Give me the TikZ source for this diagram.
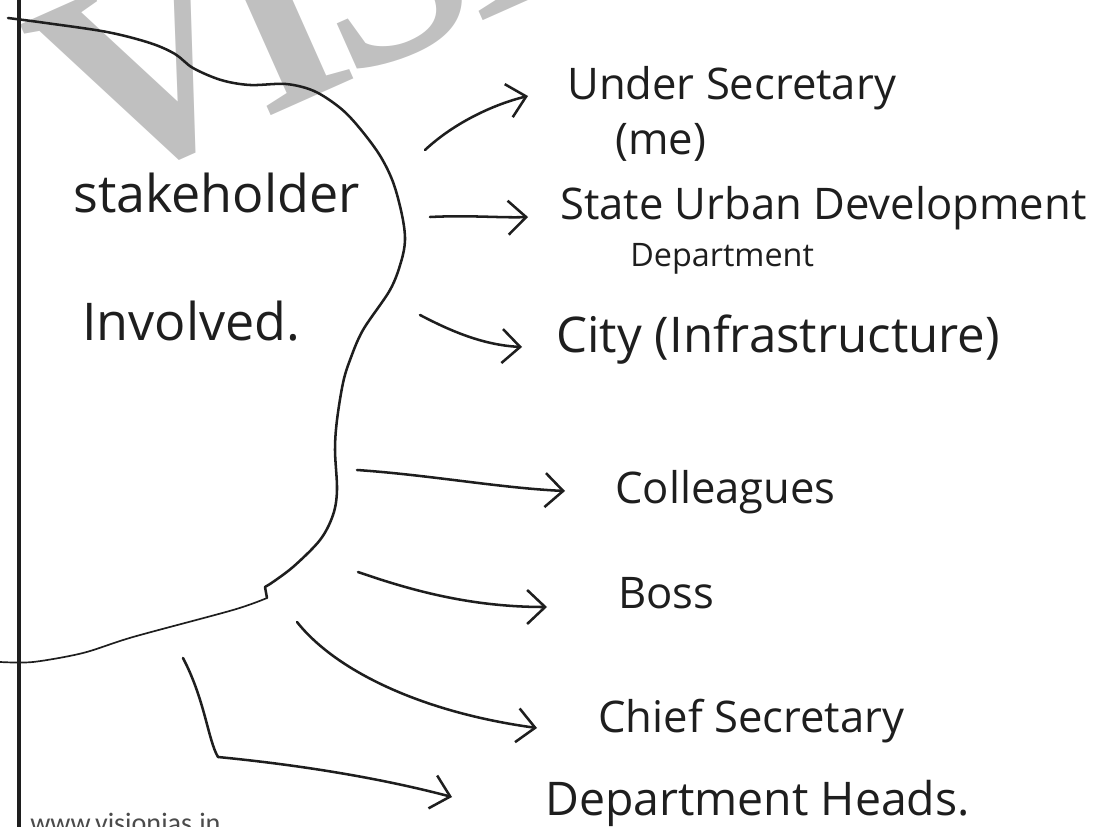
\documentclass[tikz,border=0pt]{standalone}
\usepackage{fontspec}
\usepackage{tikz}
\usetikzlibrary{arrows.meta}
\newfontfamily\handfont{Open Sans}
\newfontfamily\markfont[LetterSpace=-6]{Liberation Serif}
\newfontfamily\webfont{Carlito}
\definecolor{ink}{RGB}{30,30,30}
\definecolor{wmgray}{RGB}{192,192,192}

\begin{document}
\begin{tikzpicture}[x={(0.025cm,0cm)}, y={(0cm,-0.025cm)},
        lbl/.style={anchor=base west, inner sep=0pt, text=ink, font=\handfont\fontsize{31}{31}\selectfont},
        side/.style={lbl, font=\handfont\fontsize{37}{37}\selectfont},
        hand/.style={draw=ink, line width=1.8pt, line cap=round, line join=round},
        harrow/.style={hand, -{Straight Barb[length=0.45cm, width=0.85cm]}}]
        \useasboundingbox (0,0) rectangle (1106,827);
        \clip (0,0) rectangle (1106,827);
        \node[rotate=24, anchor=base west, inner sep=0pt, text=wmgray,
            font=\markfont\bfseries\fontsize{200}{200}\selectfont] (mark) at (92,195) {VISION IAS};
        \draw[ink, line width=2.2pt] (19,0) -- (19,827);
        \draw[hand] plot[smooth, tension=0.55] coordinates {(8,18) (46,23) (107,32) (150,43) (175,54)
            (193,68) (221,80) (250,85) (286,84) (314,91) (339,107) (357,125) (379,154) (393,182)
            (402,215) (405,240) (401,262) (390,290) (363,330) (350,360) (343,383) (337,420)
            (335,450) (337,490) (333,515) (320,540) (293,567) (270,584)}
            -- (265,587) -- (267,598);
        \draw[ink, line width=1.2pt] plot[smooth, tension=0.5] coordinates {(267,598) (233,610) (133,637)
            (83,653) (33,662) (0,662)};
        \node[side] (stake) at (73,212) {stakeholder};
        \node[side] (invol) at (82,340) {Involved.};
        \foreach \nm/\px/\py/\txt in {usec/567/100/Under Secretary, me/615/155/(me),
            sud/560/220/State Urban Development, coll/615/503/Colleagues, boss/618/608/Boss,
            chief/598/732/Chief Secretary}{
            \node[lbl] (\nm) at (\px,\py) {\txt};
        }
        \node[lbl, font=\handfont\fontsize{23}{23}\selectfont] (sudb) at (630,266) {Department};
        \node[lbl, font=\handfont\fontsize{35}{35}\selectfont] (city) at (556,352) {City (Infrastructure)};
        \node[lbl, font=\handfont\fontsize{33}{33}\selectfont] (dhead) at (545,815) {Department Heads.};
        \coordinate (t1) at (425,150); \coordinate (h1) at (528,96);
        \coordinate (t2) at (430,217); \coordinate (h2) at (528,217);
        \coordinate (t3) at (420,315); \coordinate (h3) at (522,347);
        \coordinate (t4) at (357,470); \coordinate (h4) at (565,491);
        \coordinate (t5) at (358,572); \coordinate (h5) at (547,607);
        \coordinate (t6) at (297,622); \coordinate (h6) at (537,728);
        \coordinate (t7) at (183,658); \coordinate (b7) at (218,757); \coordinate (h7) at (452,797);
        \draw[harrow] (t1) .. controls (455,122) and (495,104) .. (h1);
        \draw[harrow] (t2) .. controls (470,215) and (500,218) .. (h2);
        \draw[harrow] (t3) .. controls (445,328) and (480,345) .. (h3);
        \draw[harrow] (t4) .. controls (430,475) and (500,488) .. (h4);
        \draw[harrow] (t5) .. controls (410,590) and (470,607) .. (h5);
        \draw[harrow] (t6) .. controls (335,670) and (420,712) .. (h6);
        \draw[hand] (t7) .. controls (205,700) and (208,740) .. (b7);
        \draw[harrow] (b7) .. controls (300,765) and (380,778) .. (h7);
        \node[anchor=base west, inner sep=0pt, text=ink!80, font=\webfont\fontsize{20}{20}\selectfont] (web) at (30,832) {www.visionias.in};
    \end{tikzpicture}
\end{document}
